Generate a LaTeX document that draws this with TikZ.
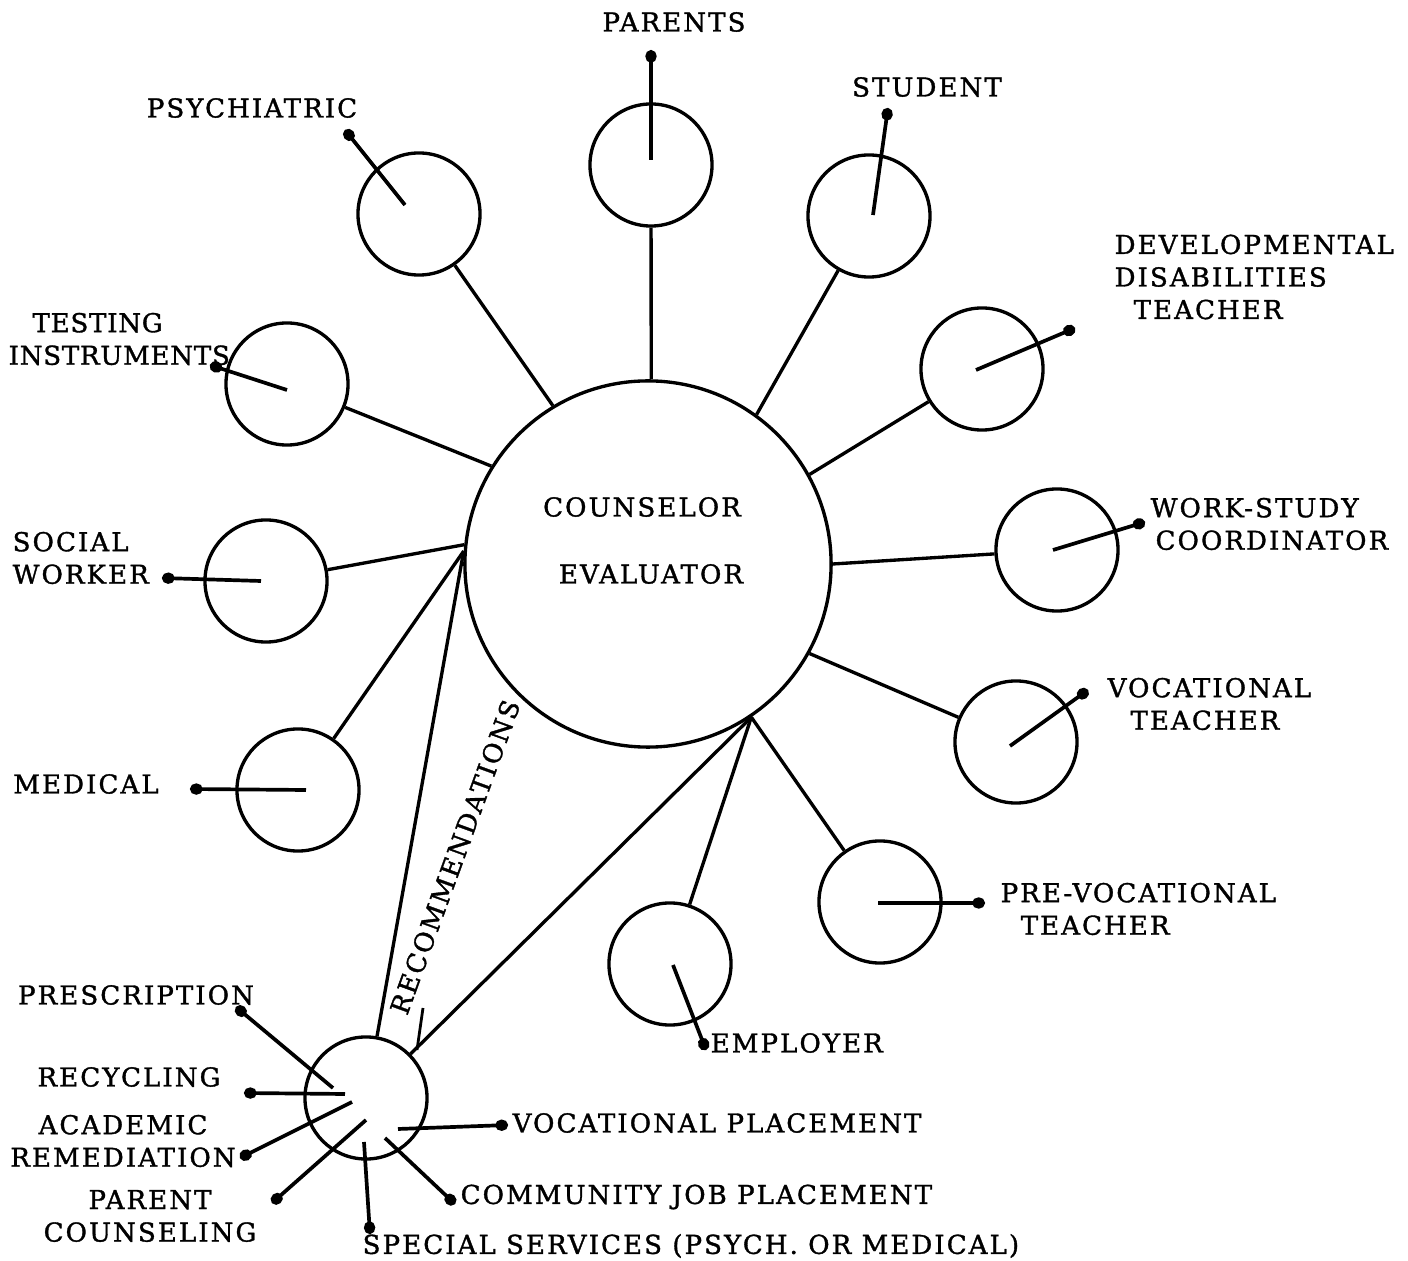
\documentclass[tikz,border=0pt]{standalone}
\usepackage{fontspec}
\setmainfont{DejaVu Serif}[LetterSpace=8,FakeBold=1.3]
\usetikzlibrary{arrows.meta}
\begin{document}
\begin{tikzpicture}[x=0.01cm,y=-0.01cm,
  hub/.style={circle,draw,line width=0.95pt,minimum size=3.66cm,inner sep=0pt},
  sat/.style={circle,draw,line width=0.95pt,minimum size=1.22cm,inner sep=0pt},
  link/.style={line width=0.95pt},
  ptr/.style={line width=1.05pt,-{Circle[length=3.6pt,width=3.2pt]}},
  lbl/.style={font=\fontsize{7.4}{9.25}\selectfont,inner sep=0pt}]
\useasboundingbox (0,0) rectangle (1408,1261);

% central counselor circle
\node[hub] (main) at (648,564) {};
\node[lbl] (l-couns) at (642,507) {COUNSELOR};
\node[lbl] (l-eval) at (651,574) {EVALUATOR};

% surrounding resource circles
\node[sat] (parents) at (651,165) {};
\node[sat] (student) at (869,216) {};
\node[sat] (psych) at (419,214) {};
\node[sat] (dev) at (982,369) {};
\node[sat] (test) at (287,384) {};
\node[sat] (work) at (1057,550) {};
\node[sat] (social) at (266,581) {};
\node[sat] (voc) at (1016,742) {};
\node[sat] (medical) at (298,790) {};
\node[sat] (prevoc) at (880,902) {};
\node[sat] (employer) at (670,964) {};
\node[sat] (rec) at (366,1098) {};

% spokes from the centre
\draw[link] (main.89) -- (parents);
\draw[link] (main.54) -- (student);
\draw[link] (main.121) -- (psych);
\draw[link] (main.29) -- (dev);
\draw[link] (main.148) -- (test);
\draw[link] (main.0) -- (work);
\draw[link] (main.174) -- (social);
\draw[link] (main.-29) -- (voc);
\draw[link] (main.176) -- (medical);
\draw[link] (main.-56) -- (prevoc);
\draw[link] (main.-56) -- (employer);
\draw[link] (main.176) -- (rec);
\draw[link] (main.-56) -- (rec);

% pointer lines from circles to their labels
\coordinate (parents-in) at (651,160);   \coordinate (parents-out) at (651,50);
\coordinate (student-in) at (873,215);   \coordinate (student-out) at (888,108);
\coordinate (psych-in) at (405,205);     \coordinate (psych-out) at (345,130);
\coordinate (dev-in) at (976,370);       \coordinate (dev-out) at (1075,328);
\coordinate (test-in) at (287,390);      \coordinate (test-out) at (210,365);
\coordinate (work-in) at (1053,550);     \coordinate (work-out) at (1145,522);
\coordinate (social-in) at (261,581);    \coordinate (social-out) at (162,578);
\coordinate (voc-in) at (1010,746);      \coordinate (voc-out) at (1088,690);
\coordinate (medical-in) at (306,790);   \coordinate (medical-out) at (190,789);
\coordinate (prevoc-in) at (878,903);    \coordinate (prevoc-out) at (985,903);
\coordinate (employer-in) at (673,965);  \coordinate (employer-out) at (706,1050);
\foreach \n in {parents,student,psych,dev,test,work,social,voc,medical,prevoc,employer}
  \draw[ptr] (\n-in) -- (\n-out);

% outcome pointers from the recommendations circle
\coordinate (presc-in) at (333,1088);    \coordinate (presc-out) at (236,1007);
\coordinate (recyc-in) at (345,1094);    \coordinate (recyc-out) at (244,1093);
\coordinate (acad-in) at (352,1102);     \coordinate (acad-out) at (240,1158);
\coordinate (parc-in) at (366,1120);     \coordinate (parc-out) at (272,1203);
\coordinate (spec-in) at (364,1142);     \coordinate (spec-out) at (370,1234);
\coordinate (comm-in) at (385,1138);     \coordinate (comm-out) at (455,1204);
\coordinate (vplc-in) at (398,1129);     \coordinate (vplc-out) at (508,1125);
\foreach \n in {presc,recyc,acad,parc,spec,comm,vplc}
  \draw[ptr] (\n-in) -- (\n-out);
\coordinate (tick-a) at (423,1008); \coordinate (tick-b) at (417,1050);
\draw[line width=0.8pt] (tick-a) -- (tick-b);

% labels
\node[lbl] (l-parents) at (674,22) {PARENTS};
\node[lbl] (l-student) at (927,87) {STUDENT};
\node[lbl] (l-psych) at (252,108) {PSYCHIATRIC};
\node[lbl,align=left,anchor=west] (l-dev) at (1114,277)
  {DEVELOPMENTAL\\DISABILITIES\\\hspace*{5.4pt}TEACHER};
\node[lbl,align=left,anchor=west] (l-test) at (8,339)
  {\addfontfeatures{LetterSpace=3}\hspace*{6.8pt}TESTING\\
   \addfontfeatures{LetterSpace=3}INSTRUMENTS};
\node[lbl,align=left,anchor=west] (l-social) at (12,558) {SOCIAL\\WORKER};
\node[lbl] (l-medical) at (86,784) {MEDICAL};
\node[lbl,align=left,anchor=west] (l-work) at (1150,524)
  {WORK-STUDY\\\hspace*{1.4pt}COORDINATOR};
\node[lbl,align=left,anchor=west] (l-voc) at (1107,704)
  {VOCATIONAL\\\hspace*{6.5pt}TEACHER};
\node[lbl,align=left,anchor=west] (l-prevoc) at (1000,909)
  {PRE-VOCATIONAL\\\hspace*{5.7pt}TEACHER};
\node[lbl,anchor=west] (l-employer) at (710,1043) {EMPLOYER};
\node[lbl] (l-presc) at (136,995) {PRESCRIPTION};
\node[lbl] (l-recyc) at (129,1077) {RECYCLING};
\node[lbl,align=center] (l-acad) at (123,1141) {ACADEMIC\\REMEDIATION};
\node[lbl,align=center] (l-parc) at (150,1216) {PARENT\\COUNSELING};
\node[lbl,anchor=west] (l-vplc) at (512,1123) {VOCATIONAL PLACEMENT};
\node[lbl,anchor=west] (l-comm) at (460,1197) {COMMUNITY JOB PLACEMENT};
\node[lbl,anchor=west] (l-spec) at (362,1246) {SPECIAL SERVICES (PSYCH. OR MEDICAL)};
\node[lbl,rotate=70] (l-rec) at (455,857) {RECOMMENDATIONS};
\end{tikzpicture}
\end{document}
